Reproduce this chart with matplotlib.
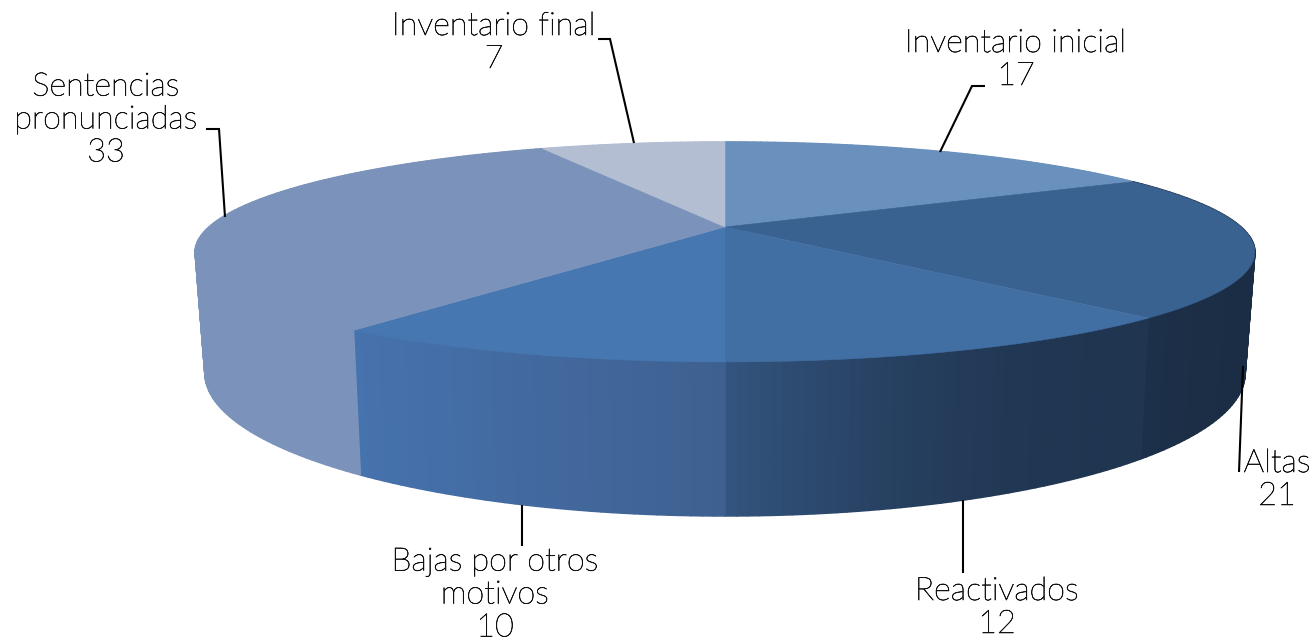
import numpy as np
import matplotlib
matplotlib.use("Agg")
import matplotlib.pyplot as plt
import matplotlib.patheffects as pe
from matplotlib.collections import PolyCollection
from matplotlib.colors import to_rgb

# --- data ---
categories = ["Inventario inicial", "Altas", "Reactivados",
              "Bajas por otros\nmotivos", "Sentencias\npronunciadas", "Inventario final"]
values = [17, 21, 12, 10, 33, 7]

# --- styles ---
top_colors = ["#6a91bd", "#396290", "#426fa3", "#4677b0", "#7b92ba", "#b3bed3"]
wall_start = ["#6a91bd", "#1b2d44", "#1f3550", "#3e6090", "#7b92ba", "#b3bed3"]
wall_end = ["#6a91bd", "#1c3049", "#34557f", "#4672ad", "#7b92ba", "#b3bed3"]
wall_gamma = [1, 1, 2, 1, 1, 1]
label_xy = [(1016, 60), (1277, 480), (997, 608), (495, 595), (106, 120), (494, 43)]
leaders = [
    [(985, 86), (972, 86), (940, 152)],
    [(1239, 472), (1243, 366)],
    [(963, 500), (963, 573)],
    [(522, 505), (522, 546)],
    [(206, 129), (219, 129), (225, 217)],
    [(598, 39), (610, 39), (634, 143)],
]

W, H = 1314, 643
K = 0.227
TOP = dict(cx=725, cy=227, bx=516.0, by=104.3)
BOT = dict(cx=725, cy=340.5, bx=506.5, by=135.6)


def project(theta, g):
    """Clockwise angle from 12 o'clock on the disc -> perspective pixel position."""
    u, v = np.sin(theta), np.cos(theta)
    d = 1 + K * v
    return g["cx"] + g["bx"] * u / d, g["cy"] - g["by"] * v / d


fig = plt.figure(figsize=(W / 100, H / 100), dpi=100)
ax = fig.add_axes([0, 0, 1, 1])
ax.set_xlim(0, W)
ax.set_ylim(H, 0)
ax.axis("off")

edges = np.cumsum([0] + values) / sum(values) * 2 * np.pi

# side wall
polys, cols = [], []
for i in range(len(values)):
    a0, a1 = edges[i], edges[i + 1]
    ts = np.linspace(a0, a1, max(int((a1 - a0) * 60), 4))
    vis0, vis1 = max(a0, np.pi / 2), min(a1, 3 * np.pi / 2 + 0.6)
    x0 = project(vis0, TOP)[0]
    x1 = project(vis1, TOP)[0]
    c0, c1 = np.array(to_rgb(wall_start[i])), np.array(to_rgb(wall_end[i]))
    for t0, t1 in zip(ts[:-1], ts[1:]):
        xa, ya = project(np.array([t0, t1]), TOP)
        xb, yb = project(np.array([t0, t1]), BOT)
        polys.append([(xa[0], ya[0]), (xa[1], ya[1]), (xb[1], yb[1]), (xb[0], yb[0])])
        f = np.clip((xa.mean() - x0) / (x1 - x0), 0, 1) ** wall_gamma[i]
        cols.append(tuple(c0 + (c1 - c0) * f))
ax.add_collection(PolyCollection(polys, facecolors=cols, edgecolors=cols, linewidths=1.2, zorder=1))

# top face
for i in range(len(values)):
    ts = np.linspace(edges[i], edges[i + 1], 200)
    x, y = project(ts, TOP)
    x = np.r_[TOP["cx"], x]
    y = np.r_[TOP["cy"], y]
    ax.fill(x, y, facecolor=top_colors[i], edgecolor=top_colors[i], linewidth=0.4, zorder=2)

# leader lines
for pts in leaders:
    xs, ys = zip(*pts)
    ax.plot(xs, ys, color="black", lw=1.5, zorder=3, solid_capstyle="butt", solid_joinstyle="miter")

# labels
for name, val, (lx, ly) in zip(categories, values, label_xy):
    ax.text(lx, ly, f"{name}\n{val}", ha="center", va="center", fontsize=23.3,
            family="Lato", weight="light", color="#111111", linespacing=1.17, zorder=4,
            path_effects=[pe.withStroke(linewidth=0.45, foreground="#111111")])

fig.savefig("out.png", dpi=100, facecolor="white")
